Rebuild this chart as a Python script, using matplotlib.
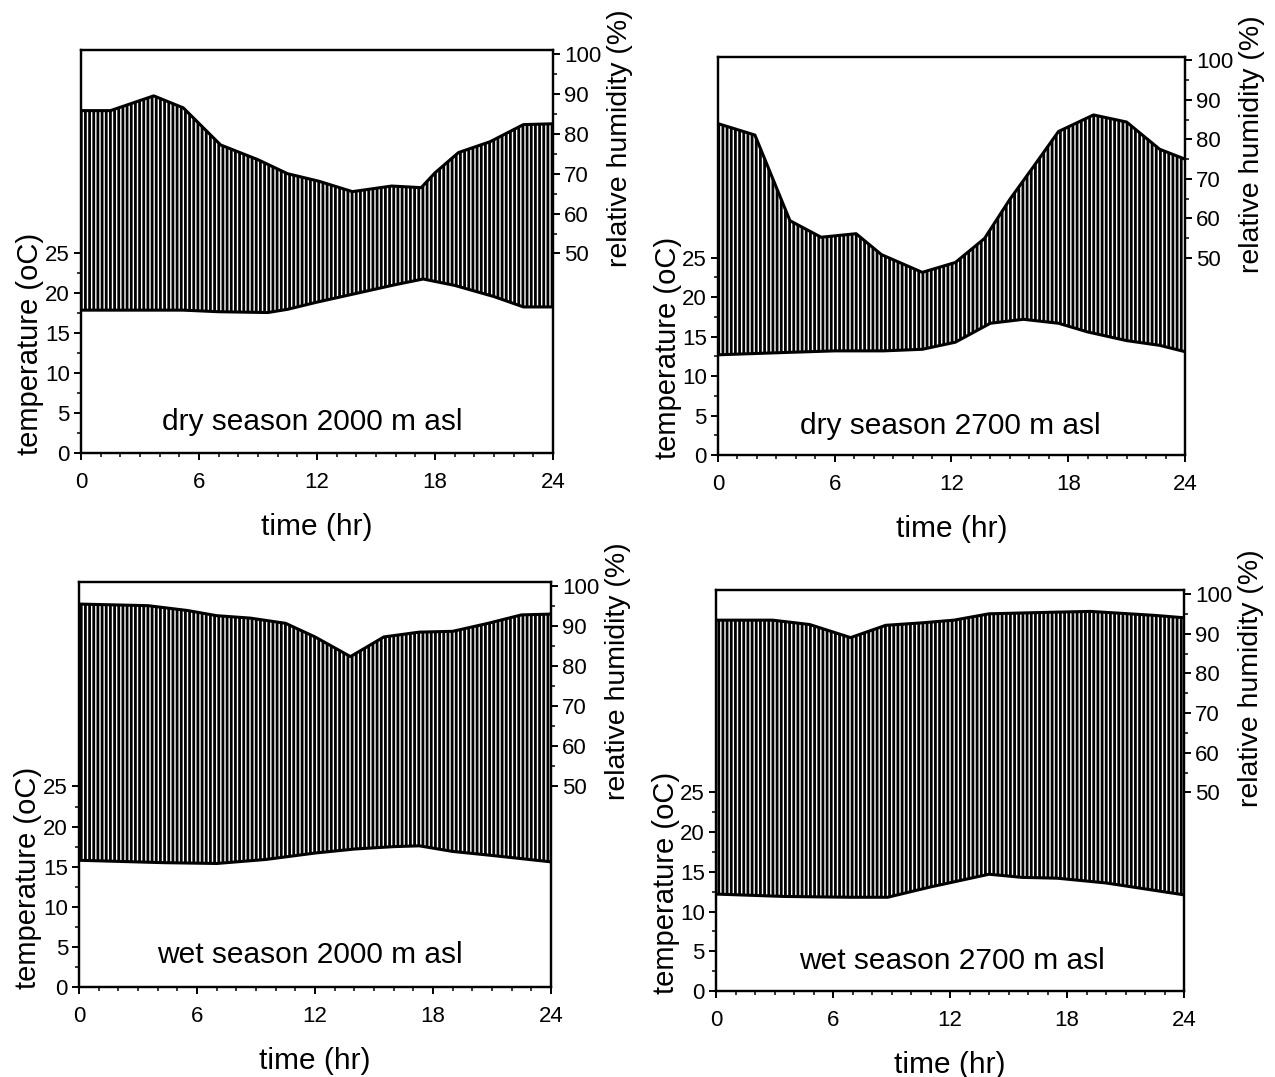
import numpy as np
import matplotlib
matplotlib.use("Agg")
import matplotlib.pyplot as plt
from matplotlib.patches import Polygon
from matplotlib.ticker import MultipleLocator, FixedLocator

plt.rcParams['font.family'] = ['Liberation Sans', 'DejaVu Sans']
plt.rcParams['hatch.linewidth'] = 2.0

# ---- dry season, 2000 m asl ----
t_hum_dry2000 = [0, 1.5, 3.7, 5.2, 7.1, 9.0, 10.5, 12.1, 13.8, 15.8, 17.3, 18.0, 19.2, 20.8, 22.5, 24]
hum_dry2000 = [85.8, 85.8, 89.5, 86.5, 77.2, 73.5, 70.0, 68.1, 65.5, 66.9, 66.5, 70.2, 75.3, 78.0, 82.3, 82.5]
t_temp_dry2000 = [0, 3.6, 5.2, 7.0, 9.5, 10.5, 12.0, 14.0, 16.0, 17.4, 19.0, 21.0, 22.5, 24]
temp_dry2000 = [17.9, 17.9, 17.9, 17.7, 17.6, 18.0, 18.9, 20.0, 21.1, 21.8, 21.0, 19.6, 18.3, 18.3]

# ---- dry season, 2700 m asl ----
t_hum_dry2700 = [0, 1.9, 3.7, 5.3, 7.1, 8.4, 10.5, 12.2, 13.7, 15.0, 16.2, 17.5, 19.3, 21.0, 22.7, 24]
hum_dry2700 = [84.0, 81.1, 59.4, 55.2, 56.1, 50.8, 46.3, 48.8, 54.9, 64.8, 73.0, 82.0, 86.2, 84.4, 77.5, 75.0]
t_temp_dry2700 = [0, 3.5, 6.0, 8.5, 10.5, 12.2, 14.0, 15.7, 17.5, 19.0, 21.0, 22.7, 24]
temp_dry2700 = [12.7, 13.0, 13.2, 13.2, 13.4, 14.3, 16.7, 17.2, 16.7, 15.6, 14.5, 13.9, 13.1]

# ---- wet season, 2000 m asl ----
t_hum_wet2000 = [0, 3.5, 5.5, 7.0, 8.7, 10.5, 12.0, 13.8, 15.5, 17.3, 19.0, 20.8, 22.5, 24]
hum_wet2000 = [95.5, 95.1, 93.9, 92.6, 92.0, 90.7, 87.3, 82.4, 87.3, 88.5, 88.7, 90.7, 92.8, 93.0]
t_temp_wet2000 = [0, 4.3, 7.0, 9.5, 12.0, 14.0, 16.0, 17.3, 19.0, 21.0, 24]
temp_wet2000 = [15.8, 15.5, 15.4, 15.9, 16.7, 17.2, 17.5, 17.6, 16.9, 16.4, 15.6]

# ---- wet season, 2700 m asl ----
t_hum_wet2700 = [0, 2.9, 4.8, 6.9, 8.7, 10.5, 12.2, 14.0, 17.3, 19.2, 22.5, 24]
hum_wet2700 = [93.4, 93.4, 92.3, 89.0, 92.1, 92.7, 93.4, 95.0, 95.4, 95.6, 94.6, 94.0]
t_temp_wet2700 = [0, 3.5, 6.9, 8.8, 11.0, 14.0, 15.7, 17.5, 20.0, 24]
temp_wet2700 = [12.2, 11.9, 11.8, 11.8, 13.1, 14.7, 14.3, 14.2, 13.6, 12.1]

panel_titles = ["dry season 2000 m asl", "dry season 2700 m asl",
                "wet season 2000 m asl", "wet season 2700 m asl"]
x_ticks = [0, 6, 12, 18, 24]
temp_ticks = [0, 5, 10, 15, 20, 25]
hum_ticks = [50, 60, 70, 80, 90, 100]

panels = [
    (t_hum_dry2000, hum_dry2000, t_temp_dry2000, temp_dry2000),
    (t_hum_dry2700, hum_dry2700, t_temp_dry2700, temp_dry2700),
    (t_hum_wet2000, hum_wet2000, t_temp_wet2000, temp_wet2000),
    (t_hum_wet2700, hum_wet2700, t_temp_wet2700, temp_wet2700),
]

# axes rectangles [left, bottom, width, height] in figure fractions
rects = [
    [0.0635, 0.5794, 0.3702, 0.3742],
    [0.5631, 0.5775, 0.3663, 0.3700],
    [0.0620, 0.0836, 0.3702, 0.3760],
    [0.5616, 0.0799, 0.3671, 0.3723],
]
title_pos = [(0.49, 0.077), (0.497, 0.073), (0.49, 0.079), (0.504, 0.075)]

fig = plt.figure(figsize=(12.75, 10.77), dpi=100)

for rect, (th, hh, tt, TT), title, tpos in zip(rects, panels, panel_titles, title_pos):
    ax = fig.add_axes(rect)
    axh = ax.twinx()

    ax.set_xlim(0, 24)
    ax.set_ylim(0, 50.5)
    axh.set_ylim(0, 101)

    # x axis
    ax.xaxis.set_major_locator(FixedLocator(x_ticks))
    ax.xaxis.set_minor_locator(MultipleLocator(1))
    # left axis: temperature
    ax.yaxis.set_major_locator(FixedLocator(temp_ticks))
    ax.yaxis.set_minor_locator(FixedLocator(np.arange(2.5, 25, 5)))
    # right axis: humidity
    axh.yaxis.set_major_locator(FixedLocator(hum_ticks))
    axh.yaxis.set_minor_locator(FixedLocator(np.arange(55, 100, 5)))

    for a in (ax, axh):
        for s in a.spines.values():
            s.set_linewidth(1.6)
        a.tick_params(which='major', direction='out', length=5, width=1.4, labelsize=16, pad=3)
        a.tick_params(which='minor', direction='out', length=3, width=1.1)
    ax.tick_params(axis='x', which='major', pad=9)
    ax.tick_params(axis='x', which='both', top=False)

    ax.set_xlabel("time (hr)", fontsize=21.5, labelpad=14)
    ax.set_ylabel("temperature (oC)", fontsize=21)
    ax.yaxis.set_label_coords(-0.078, 0.27)
    axh.set_ylabel("relative humidity (%)", fontsize=20.5, rotation=90)
    axh.yaxis.set_label_coords(1.115, 0.78)

    # temperature curve expressed in humidity-axis data coordinates
    to_hum = ax.transData - axh.transData
    bottom = to_hum.transform(np.column_stack([tt, TT]))
    top = np.column_stack([th, hh])
    verts = np.vstack([top, bottom[::-1]])
    band = Polygon(verts, closed=True, facecolor='white', edgecolor='black',
                   hatch='||||', linewidth=0, zorder=1)
    axh.add_patch(band)
    axh.plot(th, hh, color='black', lw=2.2, zorder=3, solid_joinstyle='round')
    ax.plot(tt, TT, color='black', lw=2.2, zorder=3, solid_joinstyle='round')
    ax.set_zorder(axh.get_zorder() + 1)
    ax.patch.set_visible(False)

    ax.text(tpos[0], tpos[1], title, transform=ax.transAxes, fontsize=21.5,
            ha='center', va='center')

fig.savefig("out.png", dpi=100)
